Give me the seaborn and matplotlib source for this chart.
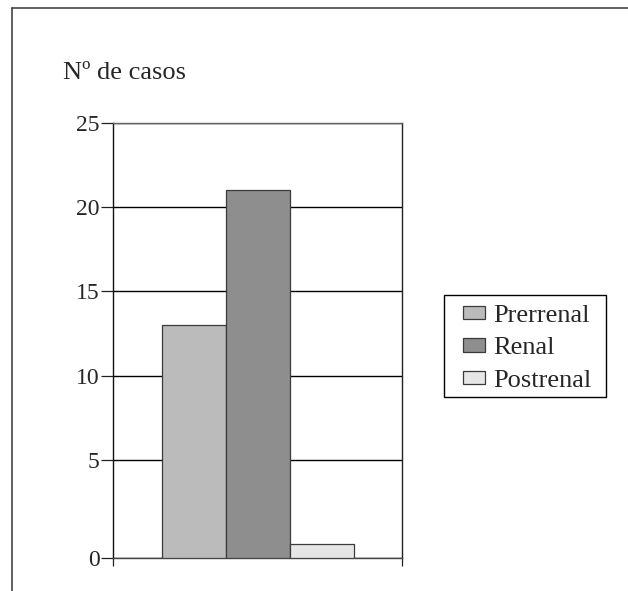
import numpy as np
import pandas as pd
import matplotlib
matplotlib.use("Agg")
import matplotlib.pyplot as plt
from matplotlib.lines import Line2D
from matplotlib.patches import Rectangle
import seaborn as sns

# Data: number of cases by type of acute renal failure
tipos = ["Prerrenal", "Renal", "Postrenal"]
casos = [13, 21, 0.7]
colores = ["#bbbbbb", "#8e8e8e", "#e6e6e6"]
y_ticks = [0, 5, 10, 15, 20, 25]
y_labels = ["0", "5", "10", "15", "20", "25"]

df = pd.DataFrame({"grupo": [""] * len(tipos), "tipo": tipos, "casos": casos})

sns.set_theme(style="white")
plt.rcParams["font.family"] = ["Liberation Serif", "DejaVu Serif"]

W, H = 628, 591
fig = plt.figure(figsize=(W / 100, H / 100), dpi=100)
ax = fig.add_axes([113.3 / W, 1 - 557.7 / H, 289 / W, 435 / H])

# Value axis: the first interval (0-5) is drawn a bit taller than the rest
k = 1.159
def fwd(y):
    y = np.asarray(y, dtype=float)
    return np.where(y < 5, y * k, 5 * k + (y - 5))
def inv(v):
    v = np.asarray(v, dtype=float)
    return np.where(v < 5 * k, v / k, v - 5 * k + 5)
ax.set_yscale("function", functions=(fwd, inv))

sns.barplot(data=df, x="grupo", y="casos", hue="tipo", palette=colores,
            width=0.664, gap=0, edgecolor="#3a3a3a", linewidth=0.9,
            saturation=1, ax=ax, legend=True, zorder=3)

ax.set_xlim(-0.5, 0.5)
ax.set_ylim(0, 25)
ax.set_yticks(y_ticks)
ax.set_yticklabels(y_labels, fontsize=17)
ax.set_xticks([-0.5, 0.5])
ax.set_xticklabels(["", ""])
ax.set_xlabel("")
ax.set_ylabel("")
ax.tick_params(axis="y", direction="out", length=9, width=0.9,
               color="#222222", pad=1, left=True)
ax.tick_params(axis="x", direction="out", length=6, width=0.9,
               color="#222222", bottom=True)
ax.yaxis.grid(True, color="black", linewidth=1.0, zorder=0)
ax.xaxis.grid(False)
ax.set_axisbelow(True)
for side, col in [("left", "#111111"), ("right", "#222222"),
                  ("top", "#666666"), ("bottom", "#444444")]:
    ax.spines[side].set_visible(True)
    ax.spines[side].set_color(col)
    ax.spines[side].set_linewidth(1.0)

# Legend entries, with a separately drawn box behind them
leg = ax.legend(loc="center left", bbox_to_anchor=(462.7 / W, 1 - 348.5 / H),
                bbox_transform=fig.transFigure, fontsize=19, frameon=False,
                handlelength=0.85, handleheight=0.42, handletextpad=0.3,
                labelspacing=0.4, borderpad=0, borderaxespad=0)
for h in leg.legend_handles:
    h.set_edgecolor("#3a3a3a")
    h.set_linewidth(0.9)
fig.add_artist(Rectangle((444 / W, 1 - 397 / H), 162 / W, 102 / H,
                         transform=fig.transFigure, facecolor="white",
                         edgecolor="black", linewidth=1.0, zorder=-1))

fig.text(63 / W, 1 - 79 / H, "Nº de casos", fontsize=19, va="baseline")

# Outer chart border (top and left edges)
fig.add_artist(Line2D([12 / W, 1.0], [1 - 8.3 / H, 1 - 8.3 / H],
                      transform=fig.transFigure, color="#444444", linewidth=1.2))
fig.add_artist(Line2D([12 / W, 12 / W], [0.0, 1 - 8.3 / H],
                      transform=fig.transFigure, color="#444444", linewidth=1.2))

fig.savefig("out.png", dpi=100)
